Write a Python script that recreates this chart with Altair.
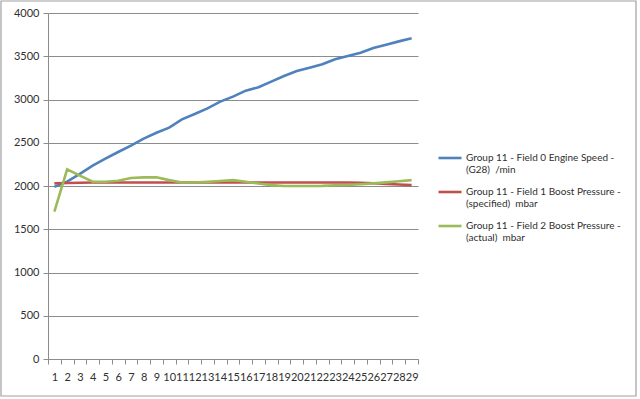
import altair as alt
import pandas as pd

x_vals = list(range(1, 30))
engine_speed = [1990, 2050, 2140, 2235, 2316, 2393, 2466, 2547, 2616, 2674,
                2771, 2832, 2898, 2975, 3033, 3102, 3141, 3206, 3272, 3329,
                3368, 3407, 3465, 3503, 3541, 3595, 3634, 3672, 3707]
boost_spec = [2030, 2035, 2038, 2040, 2040, 2040, 2040, 2040, 2040, 2040,
              2040, 2040, 2040, 2040, 2040, 2040, 2040, 2040, 2040, 2040,
              2040, 2040, 2040, 2040, 2038, 2032, 2025, 2018, 2010]
boost_act = [1703, 2193, 2120, 2050, 2050, 2060, 2092, 2100, 2100, 2068,
             2040, 2040, 2048, 2058, 2068, 2050, 2028, 2010, 2000, 2000,
             2000, 2002, 2008, 2012, 2020, 2030, 2042, 2055, 2068]

series_names = [
    "Group 11 - Field 0 Engine Speed -|(G28) \u00a0/min",
    "Group 11 - Field 1 Boost Pressure -|(specified) \u00a0mbar",
    "Group 11 - Field 2 Boost Pressure -|(actual) \u00a0mbar",
]
series_colors = ["#4F81BD", "#C0504D", "#9BBB59"]
y_ticks = [0, 500, 1000, 1500, 2000, 2500, 3000, 3500, 4000]

rows = []
for name, vals in zip(series_names, [engine_speed, boost_spec, boost_act]):
    for xv, v in zip(x_vals, vals):
        rows.append({"x": xv, "value": v, "series": name})
df = pd.DataFrame(rows)

FONT = "Lato"
TXT = "#303030"
GRID = "#8C8C8C"

lines = alt.Chart(df).mark_line(strokeWidth=2.6).encode(
    x=alt.X("x:O", bandPosition=0.5,
            scale=alt.Scale(type="band", paddingInner=0, paddingOuter=0),
            axis=alt.Axis(title=None, labelAngle=0, tickBand="extent",
                          labelOverlap=False, labelFlush=False, labelPadding=7,
                          tickSize=5, tickColor=GRID, domainColor=GRID,
                          labelFont=FONT, labelFontSize=11, labelColor=TXT,
                          grid=False)),
    y=alt.Y("value:Q", scale=alt.Scale(domain=[0, 4000], nice=False),
            axis=alt.Axis(title=None, values=y_ticks, tickSize=5, format="d",
                          tickColor=GRID, domainColor=GRID, gridColor=GRID,
                          gridOpacity=1, labelPadding=4,
                          labelFont=FONT, labelFontSize=11, labelColor=TXT)),
    color=alt.Color("series:N",
                    scale=alt.Scale(domain=series_names, range=series_colors),
                    legend=alt.Legend(title=None, orient="none",
                                      legendX=389, legendY=132,
                                      symbolType="stroke", symbolSize=529,
                                      symbolStrokeWidth=2.6, labelOffset=3,
                                      labelExpr="split(datum.label, '|')",
                                      labelFont=FONT, labelFontSize=10,
                                      labelColor=TXT, labelLimit=300,
                                      rowPadding=4, padding=0)),
)

frame = alt.Chart(pd.DataFrame({"a": [0]})).mark_rect(
    fill=None, stroke="#A0A0A0", strokeWidth=1.2
).encode(
    x=alt.value(-47), x2=alt.value(588), y=alt.value(-12), y2=alt.value(383)
)

chart = alt.layer(frame, lines).properties(
    width=370, height=346,
    autosize=alt.AutoSizeParams(type="none"),
    padding={"left": 48, "top": 13, "right": 222, "bottom": 40},
    background="white",
).configure_view(stroke=None)

chart.save("out.html", embed_options={"renderer": "svg", "actions": False})
